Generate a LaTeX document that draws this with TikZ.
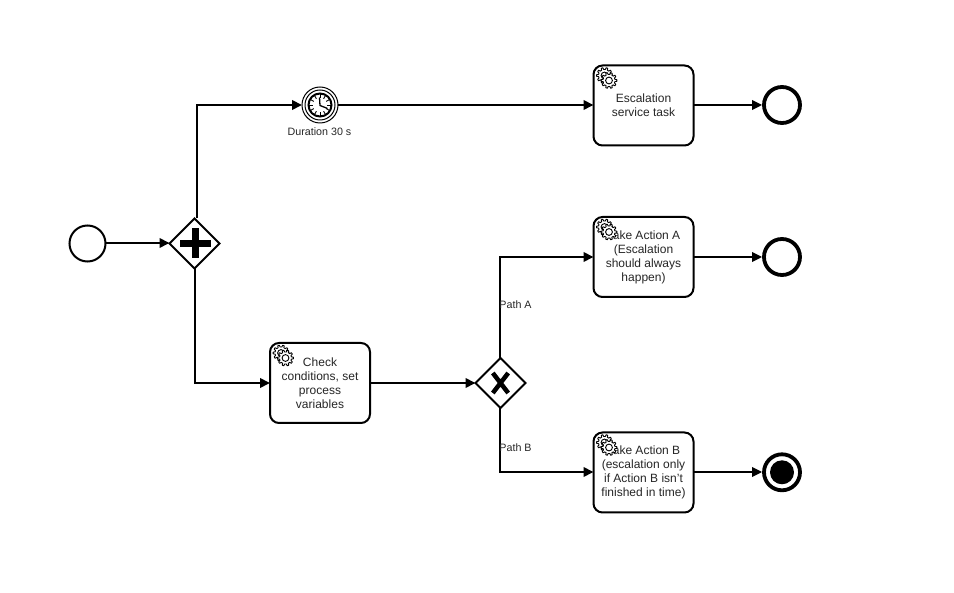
\documentclass[tikz,border=0pt]{standalone}
\usepackage{fontspec}
\setmainfont{Liberation Sans}
\usetikzlibrary{arrows.meta,shapes.geometric}
\tikzset{
  flow/.style={line width=2pt,-{Triangle[length=10pt,width=9.5pt]},black},
  taskbox/.style={draw=black,line width=2pt,rounded corners=9pt,fill=white,minimum width=100pt,minimum height=80pt,inner sep=0pt,outer sep=0pt,align=center,font=\fontsize{12}{14}\selectfont,text=black!85},
  startev/.style={circle,draw=black,line width=2pt,fill=white,minimum size=36pt,inner sep=0pt,outer sep=0pt},
  endev/.style={circle,draw=black,line width=3.8pt,fill=white,minimum size=36pt,inner sep=0pt,outer sep=1.9pt},
  gate/.style={diamond,aspect=1,draw=black,line width=2pt,fill=white,minimum width=50pt,minimum height=50pt,inner sep=0pt,outer sep=0pt},
  smalllabel/.style={font=\fontsize{10.7}{12}\selectfont,text=black!85,inner sep=0pt},
  gearline/.style={draw=black,fill=white,line width=0.9pt,line join=round},
  pics/gearicon/.style={code={
    \path[gearline] (-6:7.9)
      \foreach \a in {0,36,...,324}{
        -- (\a-6:7.9) -- (\a+6:7.9) -- (\a+11:6) -- (\a+25:6)
      } -- cycle;
    \path[gearline] (0,0) circle (3.4);
  }}
}
\begin{document}
\begin{tikzpicture}[x=1pt,y=-1pt]
\useasboundingbox (0,0) rectangle (954,593);
\node[taskbox] (esc) at (643.5,105.5) {Escalation\\service task};
\node[taskbox] (check) at (320,383) {Check\\conditions, set\\process\\variables};
\node[taskbox] (acta) at (643.5,257) {Take Action A\\(Escalation\\should always\\happen)};
\node[taskbox] (actb) at (643.5,472.5) {Take Action B\\(escalation only\\if Action B isn't\\finished in time)};
\node[startev] (start) at (87.5,243.5) {};
\node[gate] (par) at (194.5,243.5) {};
\node[circle,draw=black,line width=1pt,fill=white,minimum size=36pt,inner sep=0pt,outer sep=0pt] (timer) at (320,105) {};
\node[smalllabel] (durlabel) at (319.5,132) {Duration 30 s};
\node[endev] (end1) at (782,105) {};
\node[gate] (xor) at (500.5,383) {};
\node[endev] (end2) at (782,257) {};
\node[endev] (end3) at (782,472.3) {};
\coordinate (startline) at (0,243);
\coordinate (upbend) at (197,105);
\coordinate (lowbend) at (195,383);
\coordinate (abend) at (500.4,257);
\coordinate (bbend) at (500.4,472);
% connectors
\draw[flow] (start.east |- startline) -- (par.west |- startline);
\draw[flow] (upbend |- par.north) -- (upbend) -- (timer.west);
\draw[flow] (lowbend |- par.south) -- (lowbend) -- (check.west);
\draw[flow] (timer.east) -- (timer.east -| esc.west);
\draw[flow] (esc.east |- end1) -- (end1.west);
\draw[flow] (check.east) -- (xor.west);
\draw[flow] (abend |- xor.north) -- (abend) -- (acta.west);
\draw[flow] (bbend |- xor.south) -- (bbend) -- (bbend -| actb.west);
\draw[flow] (acta.east) -- (end2.west);
\draw[flow] (actb.east |- bbend) -- (end3.west |- bbend);
% labels
\node[smalllabel] (patha) at (515.5,305) {Path A};
\node[smalllabel] (pathb) at (515.5,448) {Path B};
% markers
\fill[black] (180,239.7) rectangle (211,246.7);
\fill[black] (192,228) rectangle (199,258.5);
\draw[black,line width=4.5pt] (492.8,373) -- (508.2,393) (508.2,373) -- (492.8,393);
\fill[black] (end3.center) circle (12);
% timer
\draw[black,line width=1pt] (timer.center) circle (15);
\draw[black,line width=2pt] (timer.center) circle (11.5);
\foreach \a in {0,30,...,330}{
  \draw[black,line width=0.9pt] (timer.center) ++(\a:7.2) -- ++(\a:3.5);
}
\draw[black,line width=1.3pt] (319.5,97.5) -- (320,105.5) -- (327.5,108.5);
% gears
\foreach \n in {esc,check,acta,actb}{
  \pic at ([xshift=11pt,yshift=30pt]\n.center -| \n.west) {gearicon};
  \pic at ([xshift=15.5pt,yshift=25pt]\n.center -| \n.west) {gearicon};
}
\end{tikzpicture}
\end{document}
